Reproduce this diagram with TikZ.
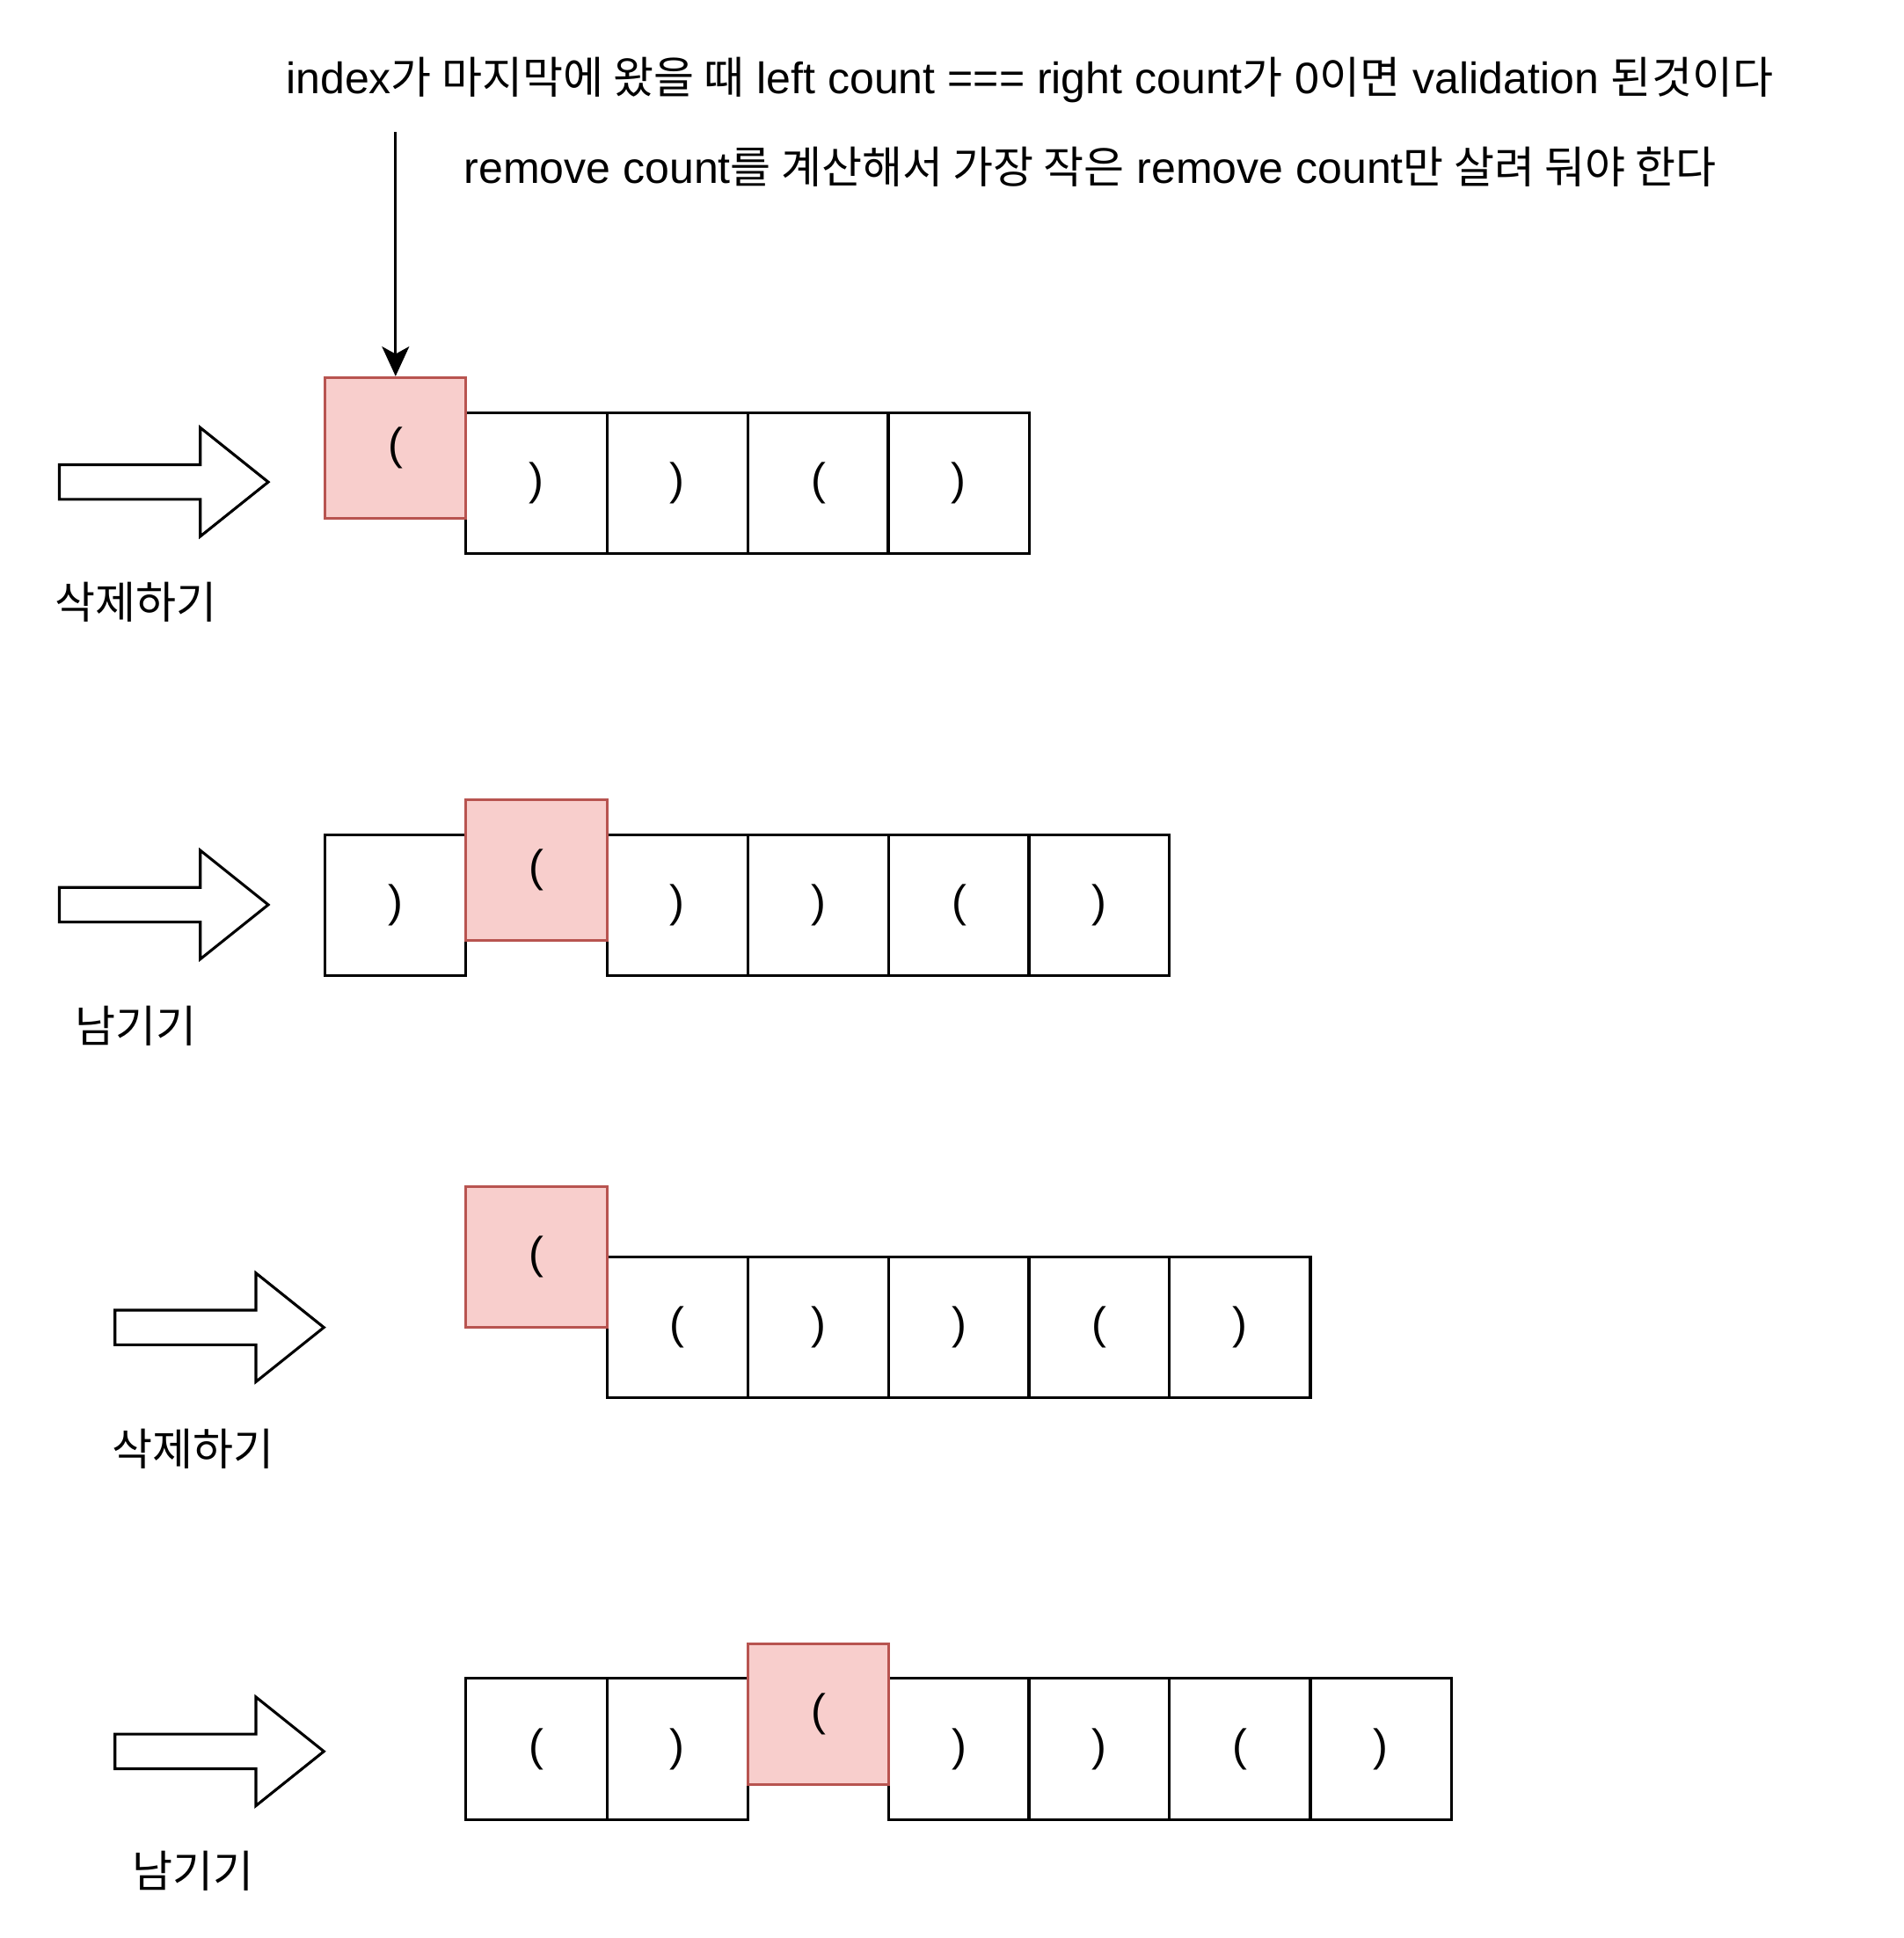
\documentclass[tikz,border=0pt]{standalone}
\usepackage{fontspec}
\setmainfont{Liberation Sans}
\newfontfamily\kr{Noto Sans CJK KR}
\usetikzlibrary{arrows.meta}
\definecolor{redline}{HTML}{B85450}
\definecolor{redfill}{HTML}{F8CECC}
\tikzset{
  cell/.style={draw=black, line width=1.1pt, minimum width=57pt, minimum height=57pt, inner sep=0pt, font=\fontsize{18}{21}\selectfont},
  hcell/.style={cell, draw=redline, fill=redfill},
  txt/.style={inner sep=0pt, font=\fontsize{17.8}{21}\selectfont},
  blockarrow/.style={draw=black, line width=1.1pt, fill=white, line join=miter},
}
\begin{document}
\begin{tikzpicture}[x=0.5pt,y=-0.5pt]
\useasboundingbox (0,0) rectangle (1540,1568);
% top texts
\node[txt, anchor=west] (t1) at (231,65) {index{\kr 가 마지막에 왔을 때} left count === right count{\kr 가} 0{\kr 이면} validation {\kr 된것이다}};
\node[txt, anchor=west] (t2) at (375,135) {remove count{\kr 를 계산해서 가장 작은} remove count{\kr 만 살려 둬야 한다}};
% row 1
\node[cell] (a1) at (434,391) {)};
\node[cell] (a2) at (548,391) {)};
\node[cell] (a3) at (662,391) {(};
\node[cell] (a4) at (775.5,391) {)};
\node[hcell] (a0) at (320,362.5) {(};
% row 2
\node[cell] (b0) at (320,732.5) {)};
\node[cell] (b2) at (548,732.5) {)};
\node[cell] (b3) at (662,732.5) {)};
\node[cell] (b4) at (776,732.5) {(};
\node[cell] (b5) at (889,732.5) {)};
\node[hcell] (b1) at (434,704) {(};
% row 3
\node[cell] (c1) at (548,1074) {(};
\node[cell] (c2) at (662,1074) {)};
\node[cell] (c3) at (776,1074) {)};
\node[cell] (c4) at (889,1074) {(};
\node[cell] (c5) at (1003,1074) {)};
\node[hcell] (c0) at (434,1017) {(};
% row 4
\node[cell] (d0) at (434,1415) {(};
\node[cell] (d1) at (548,1415) {)};
\node[cell] (d3) at (776,1415) {)};
\node[cell] (d4) at (889,1415) {)};
\node[cell] (d5) at (1003,1415) {(};
\node[cell] (d6) at (1117,1415) {)};
\node[hcell] (d2) at (662,1387) {(};
% pointer arrow
\coordinate (ptop) at (320,107);
\draw[line width=1.1pt, -{Stealth[length=12pt,width=11pt,inset=3pt]}] (ptop) -- (a0.north);
% block arrows
\foreach \n/\x/\y in {ar1/48/390, ar2/48/732, ar3/93/1074, ar4/93/1417}{
  \coordinate (\n) at (\x,\y);
  \draw[blockarrow] (\n) ++(0,-14) -- ++(114,0) -- ++(0,-30) -- ++(55,44) -- ++(-55,44) -- ++(0,-30) -- ++(-114,0) -- cycle;
}
% labels
\node[txt] (l1) at (110,487) {\kr 삭제하기};
\node[txt] (l2) at (110,830) {\kr 남기기};
\node[txt] (l3) at (156,1172) {\kr 삭제하기};
\node[txt] (l4) at (156,1514) {\kr 남기기};
\end{tikzpicture}
\end{document}
